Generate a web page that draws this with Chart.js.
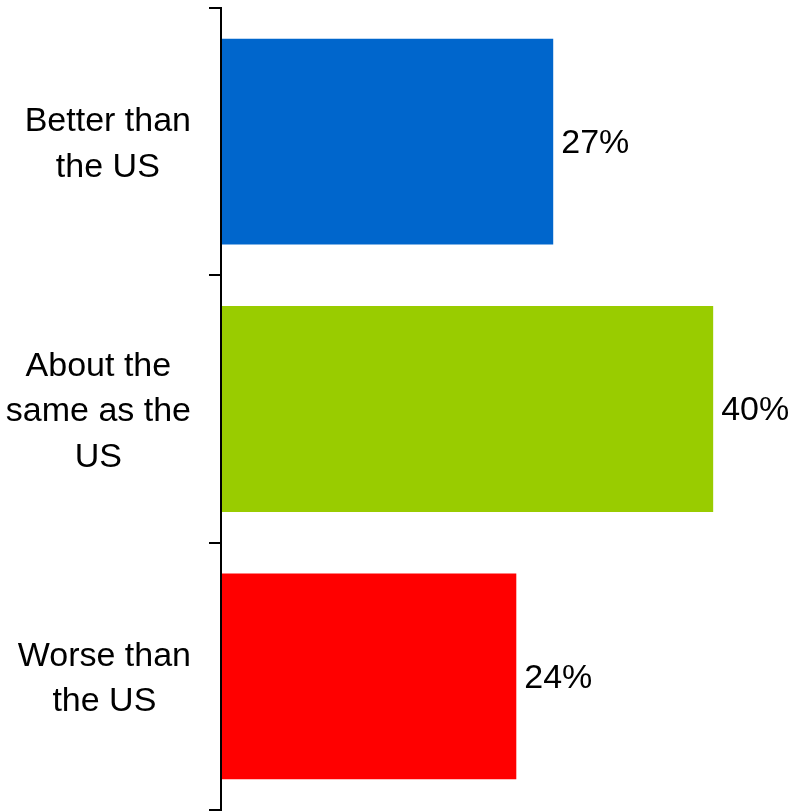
<!DOCTYPE html>
<html>
<head>
<meta charset="utf-8">
<script src="https://cdn.jsdelivr.net/npm/chart.js@4/dist/chart.umd.min.js"></script>
<style>
  html, body { margin: 0; padding: 0; background: #fff; }
  #wrap { width: 792px; height: 812px; }
</style>
</head>
<body>
<div id="wrap"><canvas id="opinionChart" width="792" height="812"></canvas></div>
<script>
// Survey answers, one bar each
const categories = [
  ["Better than", "the US"],
  ["About the", "same as the", "US"],
  ["Worse than", "the US"]
];
const shares = [27, 40, 24];
const barColors = ['#0066CC', '#99CC00', '#FF0000'];

const FONT = '34px "Liberation Sans", Arial, sans-serif';
const TICK_LEN = 12;
const LABEL_GAP = 18;
const LINE_H = 45.5;

// Percent values next to the bar ends
const valueLabels = {
  id: 'valueLabels',
  afterDatasetsDraw(chart) {
    const ctx = chart.ctx;
    const meta = chart.getDatasetMeta(0);
    ctx.save();
    ctx.font = FONT;
    ctx.fillStyle = '#000';
    ctx.textAlign = 'left';
    ctx.textBaseline = 'middle';
    meta.data.forEach((bar, i) => {
      ctx.fillText(shares[i] + '%', bar.x + 8, bar.y + 2);
    });
    ctx.restore();
  }
};

// Category names, each block centred on itself and right-aligned at the axis
const categoryLabels = {
  id: 'categoryLabels',
  afterDraw(chart) {
    const ctx = chart.ctx;
    const yScale = chart.scales.y;
    const right = chart.chartArea.left - TICK_LEN - LABEL_GAP;
    ctx.save();
    ctx.font = FONT;
    ctx.fillStyle = '#000';
    ctx.textAlign = 'center';
    ctx.textBaseline = 'middle';
    categories.forEach((lines, i) => {
      const widest = Math.max(...lines.map(l => ctx.measureText(l).width));
      const cx = right - widest / 2;
      const cy = yScale.getPixelForValue(i) + 3;
      const top = cy - (lines.length - 1) * LINE_H / 2;
      lines.forEach((l, j) => ctx.fillText(l, cx, top + j * LINE_H));
    });
    ctx.restore();
  }
};

new Chart(document.getElementById('opinionChart'), {
  type: 'bar',
  data: {
    labels: categories,
    datasets: [{
      data: shares,
      backgroundColor: barColors,
      borderWidth: 0,
      categoryPercentage: 0.77,
      barPercentage: 1
    }]
  },
  options: {
    indexAxis: 'y',
    responsive: false,
    animation: false,
    layout: { padding: { top: 8, bottom: 2, left: 0, right: 5 } },
    plugins: {
      legend: { display: false },
      tooltip: { enabled: false }
    },
    scales: {
      x: {
        display: false,
        min: 0,
        max: 46
      },
      y: {
        grid: {
          offset: true,
          drawOnChartArea: false,
          drawTicks: true,
          tickLength: TICK_LEN,
          color: '#000',
          lineWidth: 2
        },
        border: { display: true, color: '#000', width: 2, z: 1 },
        ticks: { display: false },
        afterFit(scale) { scale.width = 221; }
      }
    }
  },
  plugins: [valueLabels, categoryLabels]
});
</script>
</body>
</html>
